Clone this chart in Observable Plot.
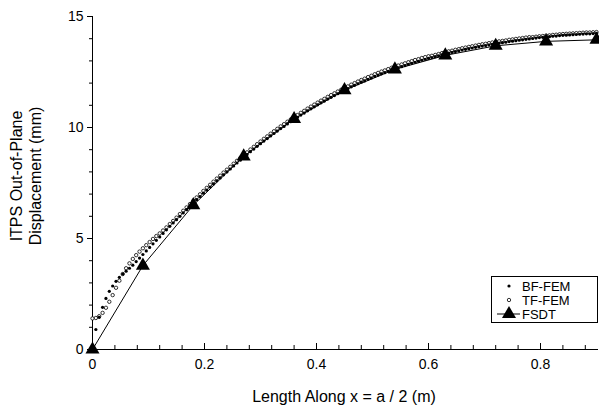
<!DOCTYPE html>
<html><head><meta charset="utf-8">
<script src="https://cdn.jsdelivr.net/npm/d3@7"></script>
<script src="https://cdn.jsdelivr.net/npm/@observablehq/plot@0.6"></script>
<style>body{margin:0;background:#fff} svg{display:block}</style>
</head><body><div id="chart"></div>
<script>
// x positions of the FEM samples (m)
const xFEM = [0,0.006,0.012,0.018,0.024,0.03,0.036,0.042,0.048,0.054,0.06,0.066,0.072,0.078,0.084,0.09,0.096,0.102,0.108,0.114,
0.12,0.126,0.132,0.138,0.144,0.15,0.156,0.162,0.168,0.174,0.18,0.186,0.192,0.198,0.204,0.21,0.216,0.222,0.228,0.234,
0.24,0.246,0.252,0.258,0.264,0.27,0.276,0.282,0.288,0.294,0.3,0.306,0.312,0.318,0.324,0.33,0.336,0.342,0.348,0.354,
0.36,0.366,0.372,0.378,0.384,0.39,0.396,0.402,0.408,0.414,0.42,0.426,0.432,0.438,0.444,0.45,0.456,0.462,0.468,0.474,
0.48,0.486,0.492,0.498,0.504,0.51,0.516,0.522,0.528,0.534,0.54,0.546,0.552,0.558,0.564,0.57,0.576,0.582,0.588,0.594,
0.6,0.606,0.612,0.618,0.624,0.63,0.636,0.642,0.648,0.654,0.66,0.666,0.672,0.678,0.684,0.69,0.696,0.702,0.708,0.714,
0.72,0.726,0.732,0.738,0.744,0.75,0.756,0.762,0.768,0.774,0.78,0.786,0.792,0.798,0.804,0.81,0.816,0.822,0.828,0.834,
0.84,0.846,0.852,0.858,0.864,0.87,0.876,0.882,0.888,0.894,0.9];
// BF-FEM displacement (mm)
const bfFEM = [0.05,0.9,1.45,1.9,2.3,2.62,2.86,3.07,3.25,3.4,3.53,3.66,3.8,3.96,4.12,4.28,4.44,4.6,4.76,4.92,
5.07,5.23,5.39,5.55,5.7,5.85,6.0,6.15,6.3,6.45,6.6,6.75,6.89,7.04,7.18,7.32,7.46,7.6,7.73,7.87,
8.0,8.13,8.27,8.4,8.53,8.66,8.78,8.91,9.03,9.15,9.27,9.39,9.5,9.62,9.73,9.84,9.95,10.05,10.16,10.26,
10.36,10.46,10.56,10.65,10.75,10.84,10.93,11.02,11.11,11.19,11.28,11.36,11.44,11.52,11.6,11.68,11.75,11.83,11.9,11.97,
12.04,12.1,12.17,12.23,12.3,12.36,12.42,12.47,12.53,12.59,12.64,12.69,12.74,12.79,12.84,12.89,12.94,12.98,13.03,13.07,
13.11,13.15,13.19,13.23,13.27,13.31,13.35,13.38,13.42,13.45,13.49,13.52,13.55,13.58,13.61,13.64,13.67,13.69,13.72,13.75,
13.77,13.8,13.82,13.84,13.87,13.89,13.91,13.93,13.95,13.97,13.99,14.01,14.03,14.05,14.06,14.08,14.09,14.11,14.12,14.14,
14.15,14.16,14.17,14.18,14.19,14.2,14.21,14.22,14.22,14.23,14.24];
// TF-FEM displacement (mm)
const tfFEM = [1.4,1.42,1.5,1.65,1.88,2.15,2.45,2.78,3.1,3.4,3.66,3.88,4.08,4.25,4.41,4.56,4.7,4.84,4.98,5.11,
5.23,5.36,5.5,5.65,5.79,5.94,6.1,6.25,6.4,6.55,6.7,6.85,6.99,7.14,7.28,7.42,7.56,7.7,7.83,7.97,
8.1,8.23,8.37,8.5,8.63,8.76,8.88,9.01,9.13,9.25,9.37,9.49,9.6,9.72,9.83,9.94,10.05,10.15,10.26,10.36,
10.46,10.56,10.66,10.75,10.85,10.94,11.03,11.12,11.21,11.29,11.38,11.46,11.54,11.62,11.7,11.78,11.85,11.93,12.0,12.07,
12.14,12.2,12.27,12.33,12.4,12.46,12.52,12.57,12.63,12.69,12.74,12.79,12.84,12.89,12.94,12.99,13.04,13.08,13.13,13.17,
13.21,13.23,13.27,13.31,13.35,13.39,13.43,13.46,13.5,13.53,13.57,13.6,13.63,13.66,13.69,13.72,13.75,13.77,13.8,13.83,
13.85,13.88,13.9,13.92,13.95,13.97,13.99,14.01,14.03,14.05,14.07,14.07,14.09,14.11,14.12,14.14,14.15,14.17,14.18,14.2,
14.21,14.22,14.23,14.24,14.25,14.26,14.27,14.28,14.28,14.29,14.3];
// FSDT solution
const xFSDT = [0,0.09,0.18,0.27,0.36,0.45,0.54,0.63,0.72,0.81,0.9];
const fsdt = [0,3.78,6.5,8.7,10.38,11.68,12.62,13.25,13.68,13.88,13.95];
// ticks
const xMajor = [0,0.2,0.4,0.6,0.8];
const xMinor = [0.04,0.08,0.12,0.16,0.24,0.28,0.32,0.36,0.44,0.48,0.52,0.56,0.64,0.68,0.72,0.76,0.84,0.88];
const yMajor = [0,5,10,15];
const yMinor = [1,2,3,4,6,7,8,9,11,12,13,14];
const legendLabels = ["BF-FEM", "TF-FEM", "FSDT"];

const FONT = "'Liberation Sans', Arial, Helvetica, sans-serif";
const W = 599, H = 410, mL = 92, mR = 3, mT = 16, mB = 61;
const plotH = H - mT - mB;
const TRI_R = 5.2;

const idx = d3.range(xFEM.length);
const fsdtData = xFSDT.map((x, i) => ({x, y: fsdt[i]}));

const chart = Plot.plot({
  width: W, height: H,
  marginLeft: mL, marginRight: mR, marginTop: mT, marginBottom: mB,
  style: {fontFamily: FONT, background: "white", overflow: "visible"},
  x: {domain: [0, 0.9]},
  y: {domain: [0, 15]},
  marks: [
    Plot.axisY(yMajor, {tickSize: 5, tickPadding: 4, fontSize: 14, label: null, color: "black"}),
    Plot.axisY(yMinor, {tickSize: 3, text: null, label: null}),
    Plot.axisX(xMajor, {tickSize: 0, tickPadding: 10, fontSize: 14, label: null, tickFormat: d => String(d)}),
    Plot.tickX(xMajor, {x: d => d, insetTop: plotH - 6, stroke: "black"}),
    Plot.tickX(xMinor, {x: d => d, insetTop: plotH - 4, stroke: "black"}),
    Plot.ruleX([0], {stroke: "black"}),
    Plot.ruleY([0], {stroke: "black", insetRight: -2}),
    Plot.dot(idx, {x: i => xFEM[i], y: i => tfFEM[i], r: 1.7, fill: "white", stroke: "black", strokeWidth: 0.8}),
    Plot.dot(idx, {x: i => xFEM[i], y: i => bfFEM[i], r: 1.6, fill: "black", stroke: "none"}),
    Plot.line(fsdtData, {x: "x", y: "y", stroke: "black", strokeWidth: 1}),
    Plot.dot(fsdtData, {x: "x", y: "y", symbol: "triangle", r: TRI_R, fill: "black", stroke: "none"})
  ]
});

const svg = d3.select(chart);
// axis titles
svg.append("text")
  .attr("x", (mL + W - mR) / 2).attr("y", 402)
  .attr("text-anchor", "middle").attr("font-size", 16).attr("font-family", FONT)
  .attr("fill", "black")
  .text("Length Along x = a / 2 (m)");
const yt = svg.append("text")
  .attr("transform", "translate(22,176) rotate(-90)")
  .attr("text-anchor", "middle").attr("font-size", 16).attr("font-family", FONT)
  .attr("fill", "black");
yt.append("tspan").attr("x", 0).attr("dy", 0).text("ITPS Out-of-Plane");
yt.append("tspan").attr("x", 0).attr("dy", 19).text("Displacement (mm)");

// legend
const lg = svg.append("g").attr("font-family", FONT).attr("font-size", 13).attr("text-anchor", "start");
lg.append("rect").attr("x", 491.5).attr("y", 276.5).attr("width", 106).attr("height", 46)
  .attr("fill", "white").attr("stroke", "black").attr("stroke-width", 1);
const rowY = [286, 300, 314];
lg.append("circle").attr("cx", 509).attr("cy", rowY[0]).attr("r", 1.6).attr("fill", "black");
lg.append("circle").attr("cx", 509).attr("cy", rowY[1]).attr("r", 1.7).attr("fill", "white").attr("stroke", "black").attr("stroke-width", 0.8);
lg.append("line").attr("x1", 497).attr("x2", 520).attr("y1", rowY[2]).attr("y2", rowY[2]).attr("stroke", "black");
lg.append("path").attr("transform", `translate(509,${rowY[2]})`).attr("d", d3.symbol(d3.symbolTriangle, TRI_R * TRI_R * Math.PI)()).attr("fill", "black");
legendLabels.forEach((t, i) => lg.append("text").attr("x", 522).attr("y", rowY[i]).attr("dy", "0.35em").attr("text-anchor", "start").attr("fill", "black").text(t));

document.getElementById("chart").appendChild(chart);
</script>
</body></html>
